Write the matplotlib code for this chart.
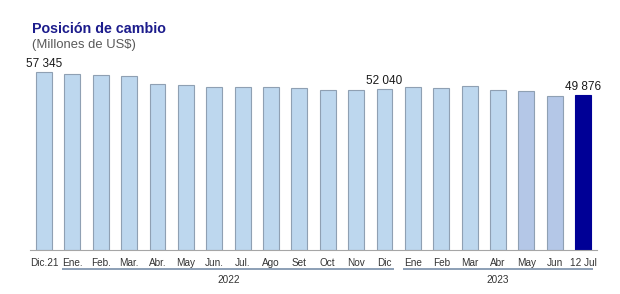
import matplotlib
matplotlib.use('Agg')
import matplotlib.pyplot as plt
import matplotlib.transforms as mtransforms

plt.rcParams['font.family'] = ['Liberation Sans', 'DejaVu Sans']

# Data (millones de US$)
labels = ['Dic.21', 'Ene.', 'Feb.', 'Mar.', 'Abr.', 'May', 'Jun.', 'Jul.', 'Ago', 'Set',
          'Oct', 'Nov', 'Dic', 'Ene', 'Feb', 'Mar', 'Abr', 'May', 'Jun', '12 Jul']
values = [57345, 56700, 56580, 56260, 53680, 53140, 52600, 52500, 52600, 52280,
          51700, 51700, 52040, 52500, 52170, 52920, 51530, 51310, 49600, 49876]
shown = {0: '57 345', 12: '52 040', 19: '49 876'}
years = [('2022', 1, 12), ('2023', 13, 19)]

colors = ['#BDD7EE'] * 17 + ['#B4C7E7', '#B4C7E7', '#000096']
edges = ['#8FA0B3'] * 19 + ['#000096']

fig = plt.figure(figsize=(6.2, 2.94), dpi=100)
ax = fig.add_axes([30 / 620, 44 / 294, 567 / 620, 190 / 294])

x = list(range(len(values)))
ax.bar(x, values, width=0.56, color=colors, edgecolor=edges, linewidth=0.8, zorder=2)

ax.set_xlim(-0.4935, 19.49)
ax.set_ylim(0, 61300)
ax.set_yticks([])
ax.set_xticks(x)
ax.set_xticklabels(labels, fontsize=7.2, color='#333333')
ax.tick_params(axis='x', length=0, pad=5.5)
for sp in ['top', 'right', 'left']:
    ax.spines[sp].set_visible(False)
ax.spines['bottom'].set_color('#A6A6A6')
ax.spines['bottom'].set_linewidth(0.8)

for i, txt in shown.items():
    ax.annotate(txt, (i, values[i]), xytext=(0, 1.5), textcoords='offset points',
                ha='center', va='bottom', fontsize=8.5, color='#1a1a1a')

# year brackets
trans = mtransforms.blended_transform_factory(ax.transData, ax.transAxes)
for yr, a, b in years:
    ax.plot([a - 0.35, b + 0.35], [-0.102, -0.102], color='#8497B0', lw=1.3,
            transform=trans, clip_on=False, solid_capstyle='butt')
    ax.text((a + b) / 2, -0.158, yr, transform=trans, ha='center', va='center',
            fontsize=7.2, color='#333333')

fig.text(32 / 620, 1 - 29 / 294, 'Posición de cambio', fontsize=10.3, fontweight='bold',
         color='#1C1C8C', ha='left', va='center')
fig.text(32 / 620, 1 - 45 / 294, '(Millones de US$)', fontsize=9.4, color='#595959',
         ha='left', va='center')

fig.savefig('out.png', dpi=100)
